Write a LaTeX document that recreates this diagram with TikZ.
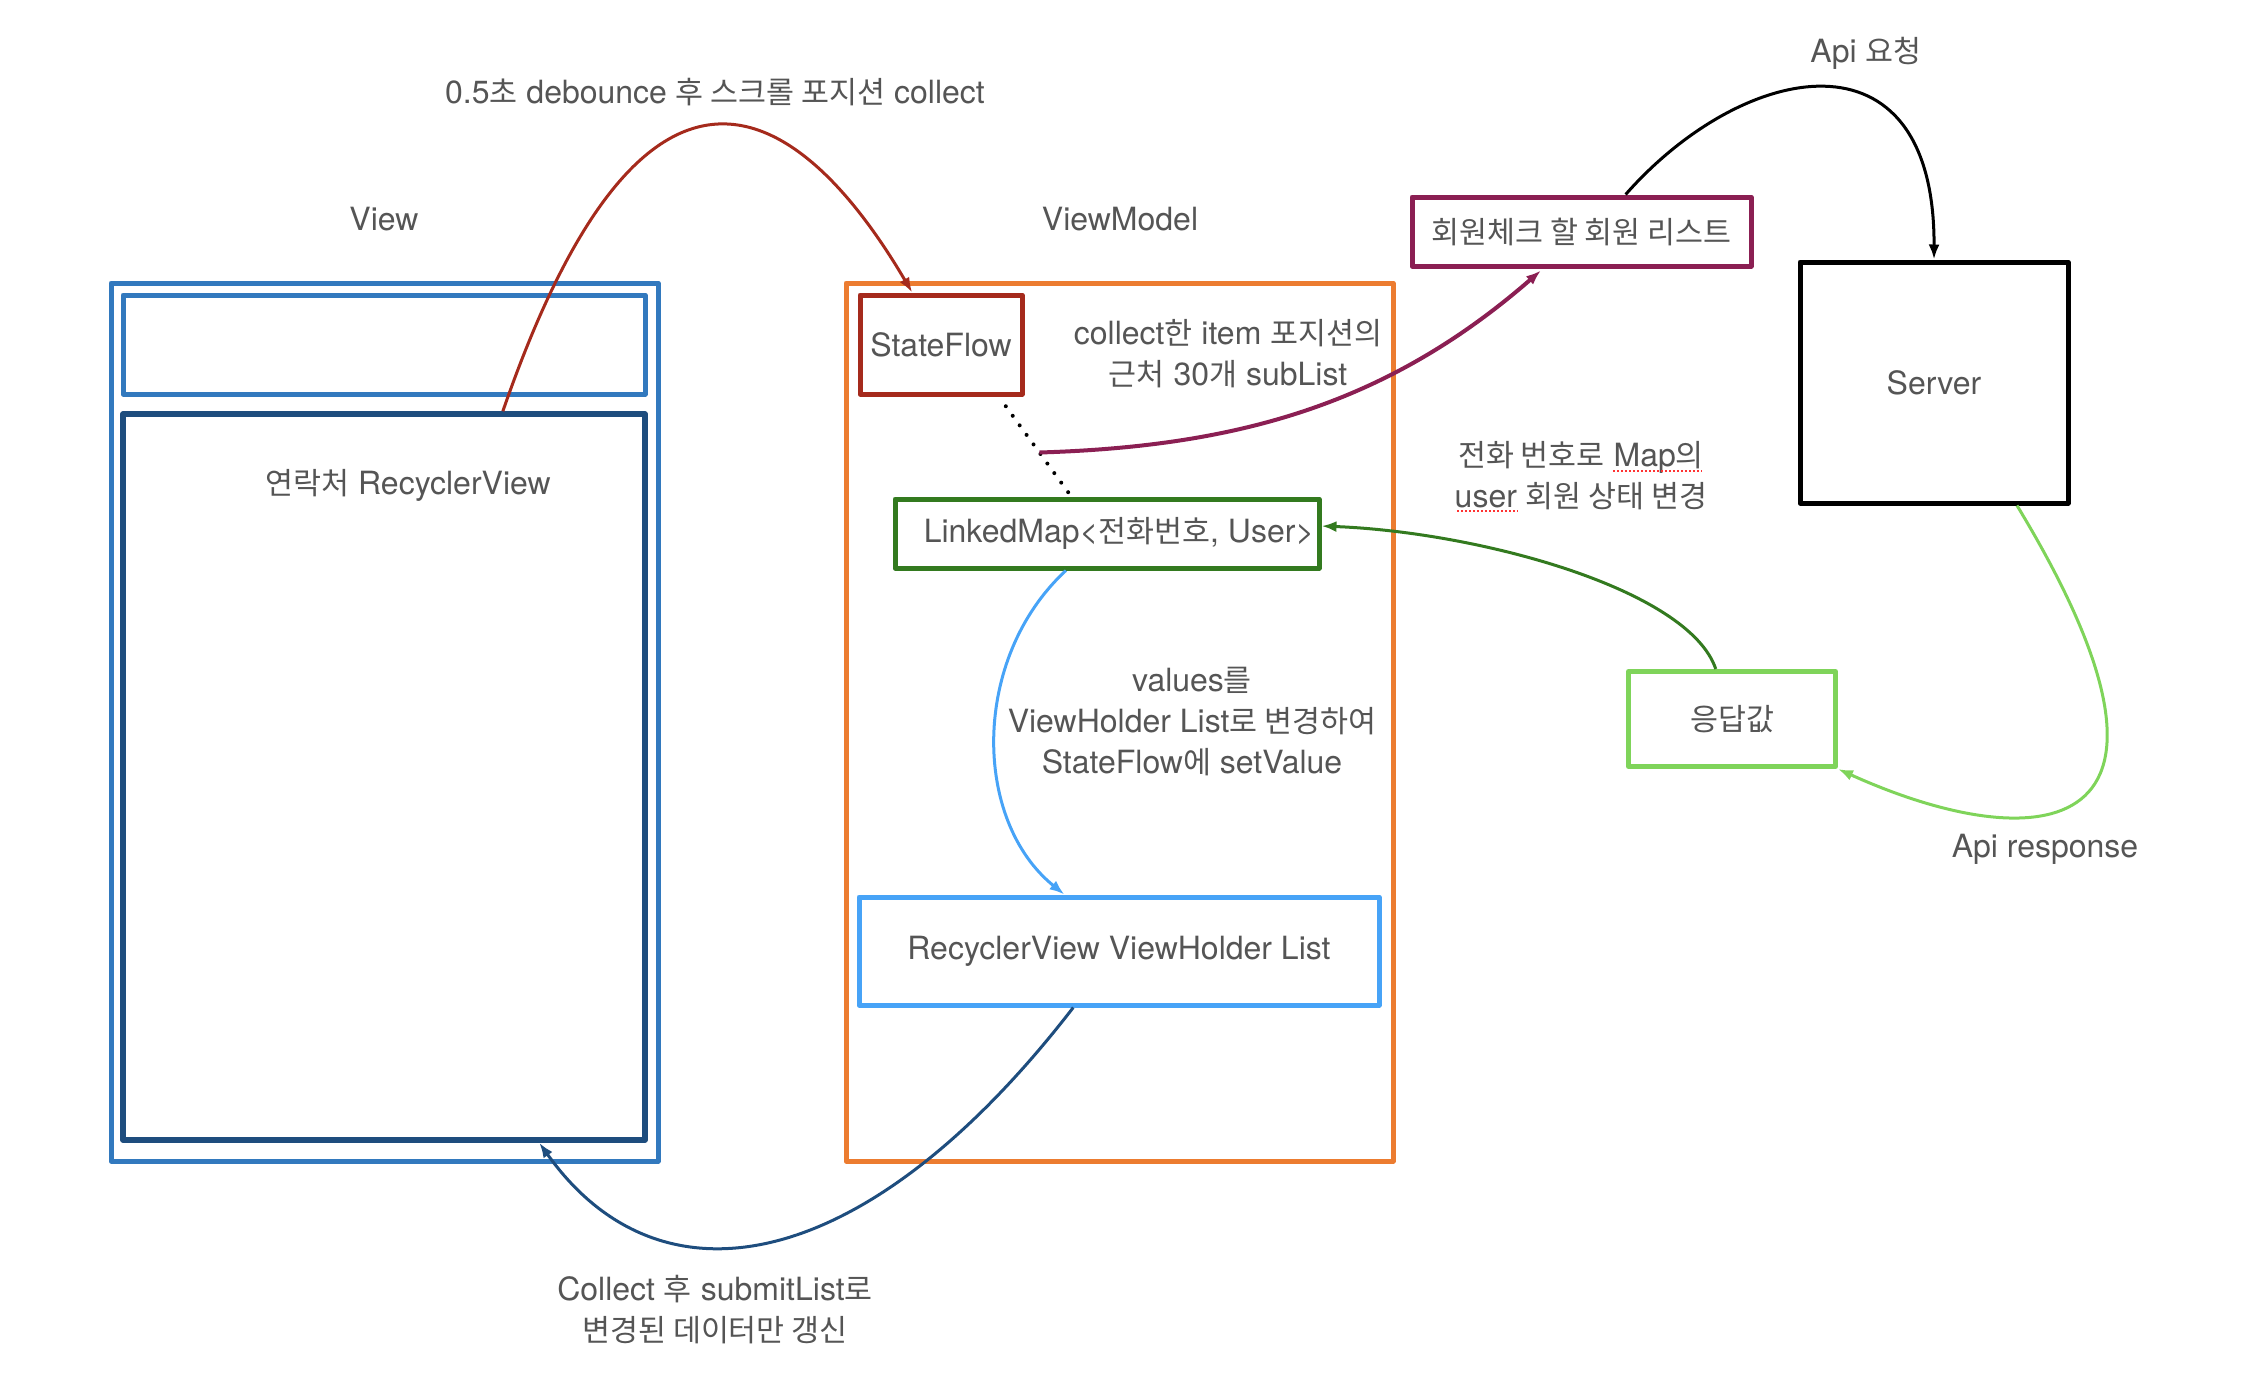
\documentclass[tikz,border=0pt]{standalone}
\usepackage{fontspec}
\setmainfont{TeX Gyre Heros}
\newfontfamily\kr{Noto Sans CJK KR}[Scale=0.95]
\usetikzlibrary{arrows.meta}

\definecolor{textgray}{HTML}{555555}
\definecolor{viewblue}{HTML}{3279BE}
\definecolor{listnavy}{HTML}{1E4D7E}
\definecolor{vmorange}{HTML}{EC7C30}
\definecolor{flowred}{HTML}{A52A1C}
\definecolor{mapgreen}{HTML}{337A1F}
\definecolor{holderblue}{HTML}{47A3F7}
\definecolor{checkmagenta}{HTML}{8B1F53}
\definecolor{resgreen}{HTML}{7FD45A}

\tikzstyle{box} = [draw, line width=5pt, line join=round, inner sep=0pt]
\tikzstyle{note} = [align=center]
\tikzstyle{flow} = [draw, line width=3pt, -{Latex[length=15pt,width=11pt]}]
\tikzstyle{assoc} = [draw, line width=4pt, line cap=round, dash pattern=on 0pt off 11.8pt]
\tikzstyle{spell} = [draw=red!80, line width=1.8pt, dash pattern=on 1.8pt off 2.2pt]

\begin{document}
\begin{tikzpicture}[x=1pt, y=-1pt,
    every node/.style={font=\fontsize{32}{41}\selectfont, text=textgray}]
    \useasboundingbox (0,0) rectangle (2242,1382);
    % View side
    \node[box, draw=viewblue, minimum width=547pt, minimum height=878pt] (view) at (384.5,722) {};
    \node[box, draw=viewblue, minimum width=522pt, minimum height=99pt] (toolbar) at (384,344.5) {};
    \node[box, draw=listnavy, line width=5.5pt, minimum width=522pt, minimum height=726pt] (contactlist) at (384,777) {};
    % ViewModel side
    \node[box, draw=vmorange, minimum width=547pt, minimum height=878pt] (viewmodel) at (1119.5,722) {};
    \node[box, draw=flowred, minimum width=162pt, minimum height=99pt] (stateflow) at (941,344.5) {StateFlow};
    \node[box, draw=mapgreen, minimum width=424pt, minimum height=69pt] (linkedmap) at (1107,533.5) {\hspace*{24pt}LinkedMap<{\kr 전화번호}, User>};
    \node[box, draw=holderblue, minimum width=520pt, minimum height=108pt] (rvlist) at (1119,951) {RecyclerView ViewHolder List};
    % server side
    \node[box, draw=checkmagenta, minimum width=339pt, minimum height=69pt] (memberlist) at (1581.5,231.5) {{\kr 회원체크 할 회원 리스트}};
    \node[box, draw=black, minimum width=268pt, minimum height=241pt] (server) at (1934,382.5) {Server};
    \node[box, draw=resgreen, minimum width=207pt, minimum height=95pt] (response) at (1732,719) {{\kr 응답값}};
    % texts
    \node[note] (title) at (715,92) {0.5{\kr 초} debounce {\kr 후 스크롤 포지션} collect};
    \node[note] (viewcap) at (384,219) {View};
    \node[note] (vmcap) at (1120,219) {ViewModel};
    \node[note] (apireq) at (1866,53) {Api {\kr 요청}};
    \node[note] (contactcap) at (408,485) {{\kr 연락처} RecyclerView};
    \node[note] (sublist) at (1228,354) {collect{\kr 한} item {\kr 포지션의}\\{\kr 근처} 30{\kr 개} subList};
    \node[note] (mapnote) at (1581,476) {{\kr 전화 번호로} Map{\kr 의}\\user {\kr 회원 상태 변경}};
    \node[note] (valuenote) at (1192,722) {values{\kr 를}\\ViewHolder List{\kr 로 변경하여}\\StateFlow{\kr 에} setValue};
    \node[note] (submitnote) at (715,1310) {Collect {\kr 후} submitList{\kr 로}\\{\kr 변경된 데이터만 갱신}};
    \node[note] (apires) at (2045,849) {Api response};
    \path[spell] (1613,471) -- (1702,471);
    \path[spell] (1457,511) -- (1518,511);
    % connectors
    \path[assoc, shorten <=12pt, shorten >=3pt] (stateflow.-42.5) -- coordinate[pos=0.56] (pick) (linkedmap.134.6);
    \path[flow, draw=flowred] (contactlist.72.7) .. controls +(150,-434) and +(-100,-170) .. (stateflow.119);
    \path[flow, draw=checkmagenta, line width=4pt, shorten >=3pt] (pick) .. controls +(200,-6) and +(-155,135) .. (memberlist.224);
    \path[flow, draw=black] (memberlist.40) .. controls +(117,-133) and +(1,-238) .. (server.north);
    \path[flow, draw=holderblue] (linkedmap.222) .. controls +(-95,88) and +(-92,-74) .. (rvlist.134.5);
    \path[flow, draw=listnavy] (rvlist.231.5) .. controls +(-206,267) and +(122,172) .. (contactlist.-67);
    \path[flow, draw=mapgreen] (response.108) .. controls +(-27,-80) and +(157,6) .. (linkedmap.2.6);
    \path[flow, draw=resgreen] (server.-56.4) .. controls +(206,340) and +(199,90) .. (response.south east);
\end{tikzpicture}
\end{document}
